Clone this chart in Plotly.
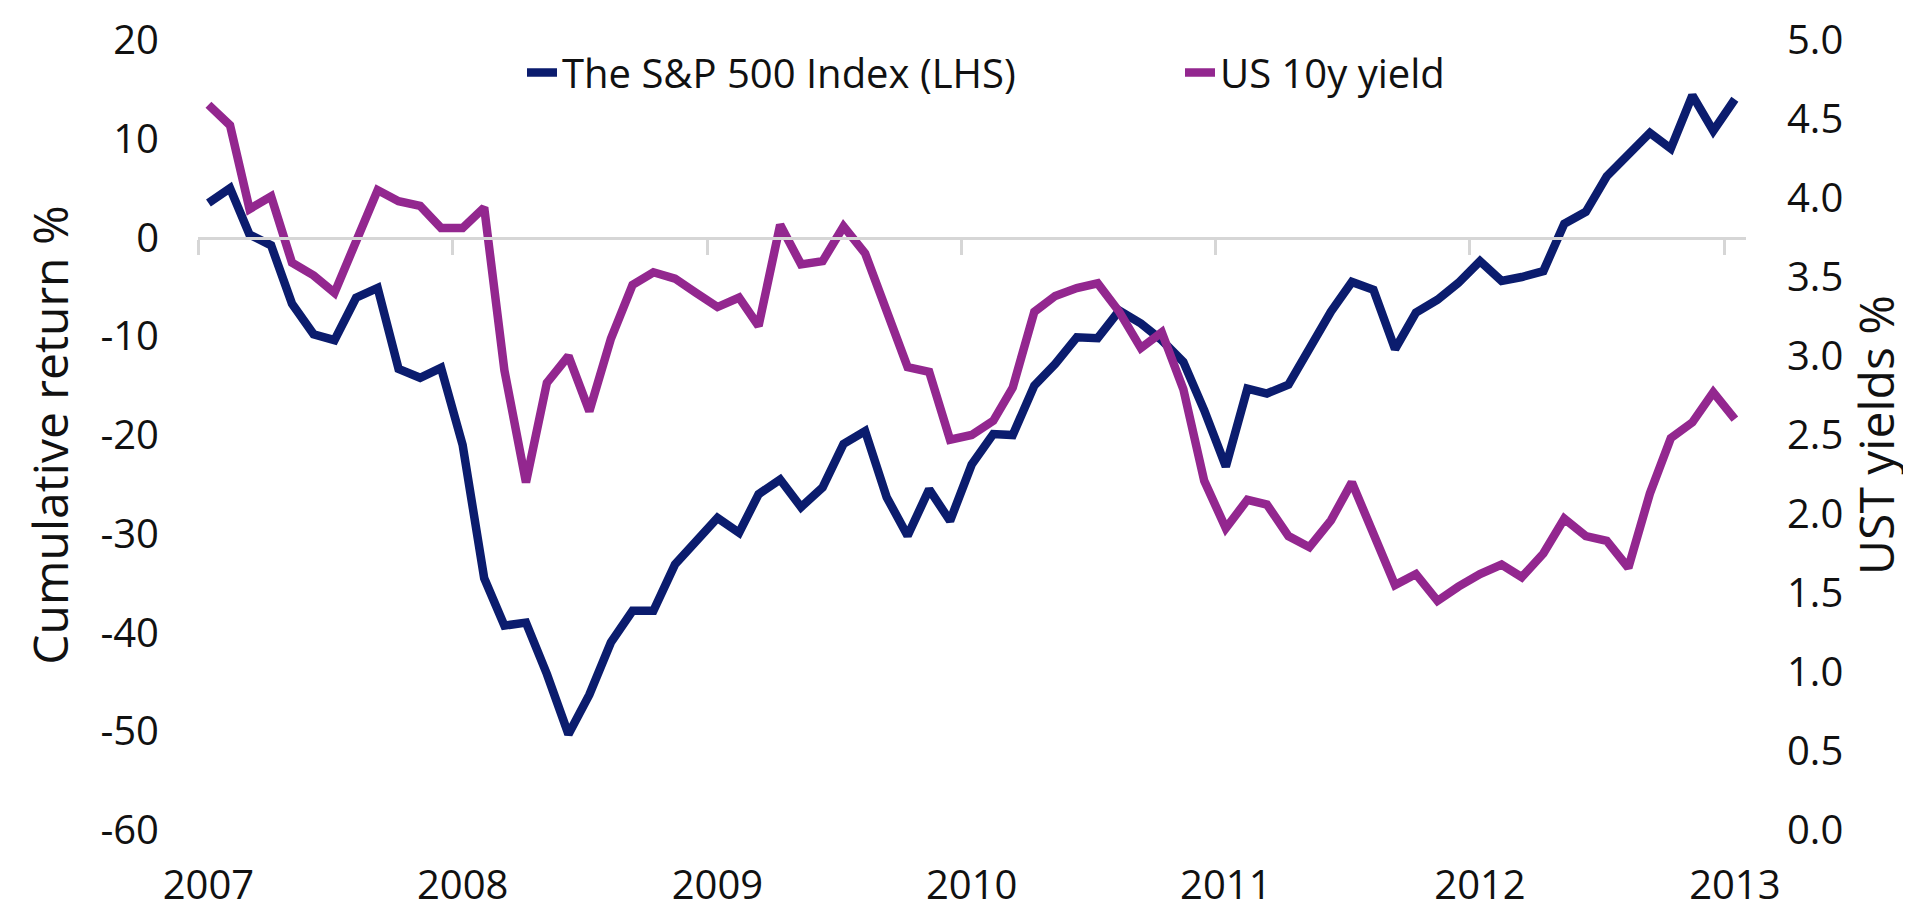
import plotly.graph_objects as go

# Monthly observations, Jan 2007 - Jan 2013 (plotted mid-month, like a category axis)
months = [f"{2007 + i // 12}-{i % 12 + 1:02d}-16" for i in range(73)]
years = list(range(2007, 2014))

# S&P 500 cumulative return, %
sp500 = [
    3.5, 5.0, 0.3, -0.8, -6.7, -9.8, -10.4, -6.1, -5.1, -13.3, -14.2, -13.2,
    -21.0, -34.5, -39.3, -39.0, -44.2, -50.3, -46.3, -41.0, -37.8, -37.8, -33.1, -30.8,
    -28.4, -29.9, -26.0, -24.5, -27.3, -25.3, -20.9, -19.6, -26.3, -30.2, -25.5, -28.7,
    -23.0, -19.9, -20.0, -15.0, -12.8, -10.1, -10.2, -7.4, -8.7, -10.4, -12.6, -17.5,
    -23.2, -15.3, -15.8, -14.9, -11.1, -7.5, -4.5, -5.3, -11.3, -7.6, -6.3, -4.6,
    -2.4, -4.4, -4.0, -3.4, 1.4, 2.6, 6.2, 8.3, 10.6, 9.0, 14.4, 10.8,
    14.0,
]

# US 10y Treasury yield, %
ust10y = [
    4.59, 4.46, 3.93, 4.01, 3.59, 3.51, 3.40, 3.73, 4.05, 3.98, 3.95, 3.81,
    3.81, 3.94, 2.91, 2.20, 2.83, 3.00, 2.65, 3.11, 3.45, 3.53, 3.49, 3.40,
    3.31, 3.37, 3.19, 3.83, 3.58, 3.60, 3.82, 3.65, 3.28, 2.93, 2.90, 2.47,
    2.50, 2.59, 2.80, 3.28, 3.38, 3.43, 3.46, 3.28, 3.05, 3.15, 2.79, 2.21,
    1.91, 2.09, 2.06, 1.86, 1.79, 1.96, 2.20, 1.89, 1.55, 1.62, 1.45, 1.54,
    1.62, 1.68, 1.60, 1.75, 1.97, 1.86, 1.83, 1.66, 2.13, 2.48, 2.58, 2.77,
    2.60,
]

left_ticks = [20, 10, 0, -10, -20, -30, -40, -50, -60]
right_ticks = [5.0, 4.5, 4.0, 3.5, 3.0, 2.5, 2.0, 1.5, 1.0, 0.5, 0.0]

NAVY = "#0b1c6e"
PURPLE = "#93278f"
GREY = "#d6d6d6"
TEXT = "#111111"
FONT = "Open Sans"
x_range = ["2007-01-01", "2013-02-01"]

fig = go.Figure()
fig.add_trace(go.Scatter(x=months, y=sp500, mode="lines", name="The S&P 500 Index (LHS)",
                         line=dict(color=NAVY, width=8.5)))
fig.add_trace(go.Scatter(x=months, y=ust10y, mode="lines", name="US 10y yield",
                         line=dict(color=PURPLE, width=8.5), xaxis="x2", yaxis="y2"))

fig.update_layout(
    width=1911, height=914,
    margin=dict(l=190, r=173, t=32, b=92),
    paper_bgcolor="white", plot_bgcolor="white",
    font=dict(family=FONT, size=40, color=TEXT),
    showlegend=True,
    legend=dict(orientation="h", x=0.2093, xanchor="left", y=1.0, yanchor="top",
                font=dict(size=40), bgcolor="rgba(0,0,0,0)",
                entrywidth=613, entrywidthmode="pixels"),
    # bottom axis: year labels centred on January
    xaxis=dict(type="date", range=x_range, automargin=False,
               tickvals=[f"{y}-01-16" for y in years], ticktext=[str(y) for y in years],
               showgrid=False, showline=False, zeroline=False,
               ticks="", ticklabelstandoff=28),
    # second x axis only draws the grey baseline with year ticks at y = 0
    xaxis2=dict(type="date", range=x_range, automargin=False,
                tickvals=[f"{y}-01-01" for y in years],
                overlaying="x", anchor="free", position=0.75,
                showgrid=False, zeroline=False, showticklabels=False,
                showline=True, linecolor=GREY, linewidth=3,
                ticks="outside", ticklen=15, tickwidth=3, tickcolor=GREY),
    yaxis=dict(range=[-60, 20], automargin=False,
               tickvals=left_ticks, ticktext=[str(v) for v in left_ticks],
               showgrid=False, zeroline=False, showline=False,
               ticks="", ticklabelstandoff=38,
               title=dict(text="Cumulative return %", standoff=16)),
    yaxis2=dict(range=[0, 5], automargin=False,
                tickvals=right_ticks, ticktext=[f"{v:.1f}" for v in right_ticks],
                overlaying="y", side="right", anchor="x2",
                showgrid=False, zeroline=False, showline=False,
                ticks="", ticklabelstandoff=40,
                title=dict(text="UST yields %", standoff=16)),
)

fig.write_html("out.html")
